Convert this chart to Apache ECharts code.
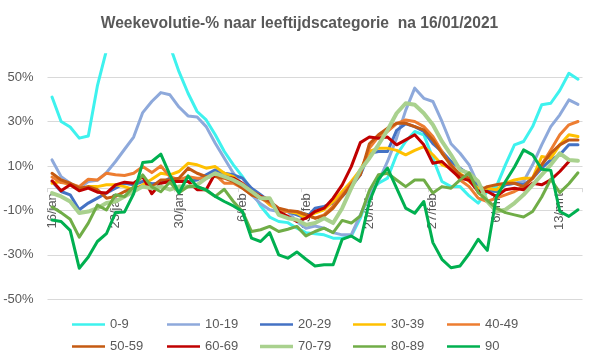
<!DOCTYPE html>
<html>
<head>
<meta charset="utf-8">
<script src="https://cdn.jsdelivr.net/npm/echarts@6/dist/echarts.min.js"></script>
<style>
html,body{margin:0;padding:0;background:#fff;}
#chart{width:599px;height:359px;}
</style>
</head>
<body>
<div id="chart"></div>
<script>
const categories = [
  "16/jan","17/jan","18/jan","19/jan","20/jan","21/jan","22/jan","23/jan","24/jan","25/jan","26/jan","27/jan","28/jan","29/jan","30/jan","31/jan",
  "1/feb","2/feb","3/feb","4/feb","5/feb","6/feb","7/feb","8/feb","9/feb","10/feb","11/feb","12/feb","13/feb","14/feb","15/feb","16/feb","17/feb","18/feb","19/feb","20/feb","21/feb","22/feb","23/feb","24/feb","25/feb","26/feb","27/feb","28/feb",
  "1/mrt","2/mrt","3/mrt","4/mrt","5/mrt","6/mrt","7/mrt","8/mrt","9/mrt","10/mrt","11/mrt","12/mrt","13/mrt","14/mrt","15/mrt"
];

const seriesNames = ["0-9","10-19","20-29","30-39","40-49","50-59","60-69","70-79","80-89","90"];
const seriesColors = ["#3EF2EE","#8EA9DB","#4472C4","#FFC000","#ED7D31","#C55A11","#C00000","#A9D18E","#70AD47","#00B050"];

const v0_9 = [41,30,27.5,22.5,23.5,46,62,72,80,85,85,80,72,64,52.4,42.7,34.5,30.7,24,16.5,10.5,5.2,-1,-8,-13,-15,-15.5,-18,-20,-20.5,-21,-22.5,-22.5,-21.5,-13.5,-1.5,2.2,4.5,15,21,25.5,24,13.5,3,0.7,0.7,-3.5,-6.7,-1.5,0.7,10.5,19.5,21,27.7,37.5,38.2,44,51.7,49];
const v10_19 = [12.7,5.2,2.2,0,3,3.5,7,12,17.5,23,34,39,43,42,36.5,32.5,32,27.7,20.2,13.5,6.7,1.5,-3,-7,-9.7,-10.5,-10.5,-15,-18,-17,-18,-20,-21,-21,-12,-3,3,12,22.5,35,45,40.4,39,30,20,15.7,10.5,1.5,-1.5,-1.5,1.5,2.2,3,10.5,19.5,27.7,33,39.7,37.7];
const v20_29 = [3,-1.5,-3,-9.7,-6.7,-4.5,-2.2,0,2.2,1.5,3,2,2.2,4.5,3.7,3,3.7,6,8.2,6.7,6,4.5,0,-3,-6,-9.7,-10.5,-12,-13.5,-9,-8.2,-6.7,-3.7,0.7,6,15.7,16.5,16.5,26,29,27.7,25.5,20,16.5,12,9,6,0.7,-0.7,-1.5,1.5,2.2,1.5,4.5,9,12.7,15,19.5,19.5];
const v30_39 = [2.2,3,1.5,-0.7,0.7,0.7,1.5,1.5,0.7,-0.7,1.5,4,6.7,6,7.5,11.2,10.5,9,9.7,6.7,5.2,1.5,-1.5,-3.7,-7.5,-9.7,-10.5,-11.2,-13.5,-11.2,-9.7,-6,-1.5,3,8.2,16.5,18,18,17,15,17,18.7,15,10.5,9,6.7,3,0,0,-0.7,2.2,3.7,4.5,4.5,14.2,13.5,19.5,24,23.2];
const v40_49 = [5,2.5,2,0.7,4,3.7,6.7,6,5.7,6.7,9.7,7,10,5.2,3.7,5.2,4.5,4.5,6,2.2,2.2,0,-3,-4.5,-6.7,-9.7,-10.5,-10.5,-12,-13.5,-12,-8.2,-3,2.2,6.7,18,23.2,25.5,29,30.7,30,27.7,23.2,16.5,9.7,3.7,0.7,-4.5,-6,-4.5,-3,-1.5,0.7,4.5,10.5,17.2,24,28.5,30];
const v50_59 = [6.7,3.7,2.2,0,0.7,-0.7,-4.5,-3.7,-1.5,0,0.7,0.7,3.7,3.7,4.5,9,6.7,5.2,5.2,4.5,3,0,-3,-4.5,-6,-9,-10,-10.5,-12,-13.5,-12.5,-9,-3.7,1.5,6,20,24,27,29.2,29.2,27.7,26.2,21.7,15.7,10.5,6,4.5,-1.5,0.7,1.5,2.2,2.2,0.7,4.5,10.5,15.7,19.5,21.7,21.7];
const v60_69 = [3.3,-1.2,1.5,-1.2,0,-1.8,-2.2,1.5,2.7,2.2,5.2,-2.5,2.2,3,3,3,-0.7,-0.7,6.7,5.2,4.5,2.2,-1.5,-3.7,-5.2,-10.5,-12.7,-15,-13.5,-10.5,-9,-4.5,1.5,9.7,20.5,23,22.5,23,19.5,21.7,24,19.5,11.2,12,8.2,4.5,3.5,-1.5,-1.5,-3.7,-0.7,0,-0.7,2.2,1.5,3.7,7.5,12,null];
const v70_79 = [-2.2,-3.7,-6,-11.2,-10.5,-9,-6.7,-6,-3.7,-1.5,0.7,0,0.7,-0.7,0.7,0.7,1.5,4.5,6.7,5.2,3.7,1.5,-1.5,-4.5,-4.5,-12,-13.5,-14.2,-16.5,-15.7,-13.5,-15.7,-9,0,8.2,13.5,19.5,26.2,33.7,38.2,37.5,33.7,28.5,21,15,8.2,6.7,3,-6,-10.5,-9.7,-6.7,-3,1.5,6,10.5,15.7,12.7,12.3];
const v80_89 = [-8.5,-11,-14,-22,-15.7,-7.6,-9.8,-3,-3.8,0.6,6,0.6,-1.6,2.8,-2.1,0.7,0.7,-1,-3.7,-0.5,-6,-10.5,-19.5,-18.7,-17.2,-19.5,-18.5,-17.2,-21.5,-19.5,-18,-20,-14.5,-15.7,-12.5,-1,6,6.7,3.7,0.7,3.7,3.7,-2.2,0.7,0,3.7,6.9,-2,-5.5,-9,-11,-12,-13,-10.5,-4,4,-2,2,6.9];
const v90 = [-14.3,-15,-19,-36,-31,-24,-20.5,-11,-10.7,-2.5,11.5,12,15.3,6,-2.2,5.5,0.7,-0.7,-3.7,-6,-8,-10.5,-22.5,-24,-20,-30,-31.5,-28.7,-32,-35,-34.5,-34.5,-23,-21.5,-24,-6,4,9,0,-9,-11.3,-6,-24.5,-32,-35.8,-35,-29.5,-23,-28,-4,3,9.5,17.2,15,8.5,8,-10.5,-12.7,-9.7];

const seriesValues = [v0_9, v10_19, v20_29, v30_39, v40_49, v50_59, v60_69, v70_79, v80_89, v90];
const yTickMin = -50, yTickMax = 60, yTickStep = 20;

const chart = echarts.init(document.getElementById('chart'), null, {renderer: 'canvas'});
const FONT = "'Liberation Sans', Arial, sans-serif";
const TXT = '#595959';

const legendCols = [72, 167, 260, 353, 447];
const legendRows = [318, 340];
const legends = seriesNames.map((n, i) => ({
  data: [n],
  left: legendCols[i % 5],
  top: legendRows[Math.floor(i / 5)],
  icon: 'rect',
  itemWidth: 33,
  itemHeight: n === '70-79' ? 3.5 : 2.5,
  itemGap: 0,
  padding: 0,
  selectedMode: false,
  textStyle: {color: TXT, fontSize: 13, fontFamily: FONT}
}));

const series = seriesNames.map((n, i) => ({
  name: n,
  type: 'line',
  data: seriesValues[i],
  showSymbol: false,
  symbol: 'none',
  connectNulls: false,
  clip: true,
  lineStyle: {color: seriesColors[i], width: n === '70-79' ? 4 : 3, join: 'round', cap: 'round'},
  itemStyle: {color: seriesColors[i]},
  emphasis: {disabled: true},
  animation: false
}));

chart.setOption({
  animation: false,
  backgroundColor: '#ffffff',
  title: {
    text: 'Weekevolutie-% naar leeftijdscategorie  na 16/01/2021',
    left: 'center',
    top: 11,
    textStyle: {color: TXT, fontSize: 15.6, fontWeight: 'bold', fontFamily: FONT}
  },
  legend: legends,
  grid: {left: 47.5, right: 16.5, top: 54.8, bottom: 59.7, containLabel: false},
  xAxis: {
    type: 'category',
    data: categories,
    boundaryGap: true,
    axisLine: {show: true, onZero: false, lineStyle: {color: '#D9D9D9', width: 1}},
    axisTick: {show: true, interval: 6, length: 4, lineStyle: {color: '#D9D9D9'}},
    axisLabel: {interval: 6, rotate: 90, color: TXT, fontSize: 13, fontFamily: FONT, margin: 5},
    splitLine: {show: false}
  },
  yAxis: {
    type: 'value',
    min: yTickMin,
    max: yTickMax,
    interval: yTickStep,
    axisLine: {show: false},
    axisTick: {show: false},
    axisLabel: {formatter: v => v + '%', color: TXT, fontSize: 13, fontFamily: FONT, margin: 14, showMaxLabel: false},
    splitLine: {show: true, showMaxLine: false, lineStyle: {color: '#D9D9D9', width: 1}}
  },
  series: series
});

// Place the category axis on the 0% line, measured through the value scale.
const zeroY = chart.convertToPixel({yAxisIndex: 0}, 0);
const bottomY = chart.convertToPixel({yAxisIndex: 0}, yTickMin);
chart.setOption({xAxis: {offset: -(bottomY - zeroY)}});
</script>
</body>
</html>
